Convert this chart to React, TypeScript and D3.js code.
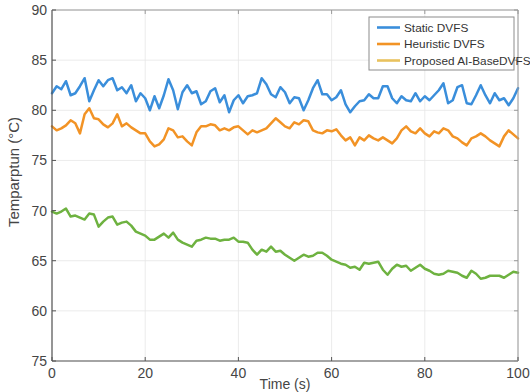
import React from 'react'
import * as d3 from 'd3'

// time axis, one sample per second
const time = d3.range(0, 101)

const staticDvfs = [
  81.7, 82.4, 82.1, 82.9, 81.5, 81.7, 82.4, 83.2, 80.9, 82.0,
  83.0, 82.4, 83.0, 83.2, 82.0, 82.3, 81.7, 82.5, 80.9, 81.7,
  81.2, 80.0, 81.4, 80.2, 81.5, 83.1, 82.0, 80.1, 81.8, 82.5,
  81.7, 81.9, 80.6, 80.9, 81.9, 82.2, 80.8, 81.5, 79.8, 81.0,
  81.5, 80.7, 81.4, 81.5, 81.7, 83.2, 82.6, 81.6, 81.3, 82.3,
  81.8, 80.7, 81.3, 81.2, 80.0, 81.0, 82.2, 83.0, 81.6, 81.6,
  81.0, 81.3, 82.0, 80.6, 79.8, 80.4, 80.9, 81.0, 81.6, 81.2,
  81.2, 82.4, 82.4, 81.2, 80.7, 81.4, 81.0, 80.9, 81.7, 80.9,
  81.4, 81.0, 81.5, 82.0, 82.7, 80.7, 81.0, 82.3, 82.5, 80.7,
  80.6, 81.5, 82.5, 81.5, 80.7, 81.7, 81.0, 81.2, 80.5, 81.2,
  82.2,
]

const heuristicDvfs = [
  78.4, 78.0, 78.2, 78.5, 79.0, 78.7, 77.7, 79.6, 80.2, 79.2,
  79.1, 78.6, 78.3, 78.7, 79.6, 78.4, 78.7, 78.3, 78.0, 77.7,
  77.7, 76.9, 76.4, 76.6, 77.1, 78.2, 78.0, 77.3, 77.4, 76.9,
  76.5, 77.8, 78.4, 78.4, 78.6, 78.5, 78.0, 78.2, 78.0, 78.3,
  78.4, 78.0, 77.6, 78.0, 77.8, 78.0, 78.2, 78.7, 79.2, 78.8,
  78.4, 78.2, 78.8, 78.6, 79.0, 78.9, 78.0, 77.8, 77.7, 78.0,
  77.9, 78.1, 77.5, 77.0, 77.3, 76.5, 77.3, 77.0, 77.5, 77.2,
  77.0, 77.3, 77.0, 76.7, 77.2, 78.0, 78.4, 77.9, 77.7, 78.2,
  77.7, 77.4, 77.9, 77.7, 78.2, 78.0, 77.4, 77.2, 76.8, 76.5,
  77.2, 77.4, 77.7, 77.4, 77.0, 76.7, 76.4, 77.4, 78.0, 77.6,
  77.2,
]

const proposedDvfs = [
  69.9, 69.7, 69.9, 70.2, 69.4, 69.5, 69.3, 69.1, 69.7, 69.6,
  68.4, 68.9, 69.3, 69.4, 68.6, 68.8, 68.9, 68.5, 67.9, 67.7,
  67.5, 67.1, 67.1, 67.4, 67.7, 67.3, 67.8, 67.1, 66.8, 66.6,
  66.4, 67.0, 67.1, 67.3, 67.2, 67.2, 67.0, 67.1, 67.1, 67.3,
  66.9, 66.9, 66.8, 66.1, 65.6, 66.1, 65.9, 66.4, 65.9, 66.0,
  65.6, 65.3, 65.0, 65.3, 65.6, 65.4, 65.5, 65.8, 65.8, 65.5,
  65.1, 64.9, 64.7, 64.6, 64.3, 64.4, 64.1, 64.8, 64.7, 64.8,
  64.9, 64.1, 63.6, 64.2, 64.6, 64.4, 64.5, 64.0, 64.3, 64.6,
  64.2, 64.0, 63.7, 63.6, 63.7, 64.0, 63.9, 63.8, 63.5, 63.3,
  64.0, 63.7, 63.2, 63.3, 63.5, 63.5, 63.5, 63.3, 63.6, 63.9,
  63.8,
]

const xTicks = [0, 20, 40, 60, 80, 100]
const yTicks = [90, 85, 80, 75, 70, 65, 60, 55]
// the bottom tick of the original figure reads "75"
const yTickLabels = ['90', '85', '80', '75', '70', '65', '60', '75']

const legendNames = ['Static DVFS', 'Heuristic DVFS', 'Proposed AI-BaseDVFS']
const legendColors = ['#3a8edb', '#f29325', '#e9c25e']

const width = 530
const height = 392
const marge = { top: 10, right: 12, bottom: 31, left: 52 }
const font = '"Liberation Sans", Arial, sans-serif'

export default function App() {
  const x = d3.scaleLinear().domain([0, 100]).range([marge.left, width - marge.right])
  const y = d3.scaleLinear().domain([55, 90]).range([height - marge.bottom, marge.top])

  const line = d3.line<number>()
    .x((d, i) => x(time[i]))
    .y(d => y(d))

  const series = [
    { values: staticDvfs, color: '#3a8edb' },
    { values: heuristicDvfs, color: '#f29325' },
    { values: proposedDvfs, color: '#6eb240' },
  ]

  const x0 = x(0), x1 = x(100), y0 = y(55), y1 = y(90)

  return (
    <svg width={width} height={height}
      style={{ position: 'absolute', left: 0, top: 0, background: '#fff' }}
      fontFamily={font}>
      <rect x={x0} y={y1} width={x1 - x0} height={y0 - y1} fill="#fff" />
      {/* grid */}
      {xTicks.map(t => (
        <line key={'gx' + t} x1={x(t)} x2={x(t)} y1={y1} y2={y0} stroke="#e6e6e6" strokeWidth={0.8} />
      ))}
      {yTicks.map(t => (
        <line key={'gy' + t} x1={x0} x2={x1} y1={y(t)} y2={y(t)} stroke="#e6e6e6" strokeWidth={0.8} />
      ))}

      {/* lines */}
      {series.map((s, i) => (
        <path key={i} d={line(s.values) || ''} fill="none" stroke={s.color}
          strokeWidth={2.5} strokeLinejoin="round" strokeLinecap="round" />
      ))}

      {/* box */}
      <line x1={x0} x2={x1} y1={y1} y2={y1} stroke="#9a9a9a" strokeWidth={1} />
      <line x1={x1} x2={x1} y1={y1} y2={y0} stroke="#9a9a9a" strokeWidth={1} />
      <line x1={x0} x2={x0} y1={y1} y2={y0} stroke="#555" strokeWidth={1.2} />
      <line x1={x0} x2={x1} y1={y0} y2={y0} stroke="#555" strokeWidth={1.2} />

      {/* ticks */}
      {xTicks.map(t => (
        <g key={'tx' + t}>
          <line x1={x(t)} x2={x(t)} y1={y0} y2={y0 - 4} stroke="#555" />
          <line x1={x(t)} x2={x(t)} y1={y1} y2={y1 + 4} stroke="#9a9a9a" />
          <text x={x(t)} y={y0 + 17} textAnchor="middle" fontSize={14} fill="#454545">{t}</text>
        </g>
      ))}
      {yTicks.map((t, i) => (
        <g key={'ty' + t}>
          <line x1={x0} x2={x0 + 4} y1={y(t)} y2={y(t)} stroke="#555" />
          <line x1={x1} x2={x1 - 4} y1={y(t)} y2={y(t)} stroke="#9a9a9a" />
          <text x={x0 - 5} y={y(t) + 5} textAnchor="end" fontSize={14} fill="#454545">{yTickLabels[i]}</text>
        </g>
      ))}

      {/* axis labels */}
      <text x={(x0 + x1) / 2} y={height - 3} textAnchor="middle" fontSize={14} fill="#454545">Time (s)</text>
      <text transform={`translate(19,172) rotate(-90)`} textAnchor="middle" fontSize={15} fill="#454545">Temparptun (°C)</text>

      {/* legend */}
      <g transform="translate(369,17)">
        <rect x={0} y={0} width={145} height={53} fill="#fff" stroke="#8c8c8c" strokeWidth={1} />
        {legendNames.map((n, i) => (
          <g key={n} transform={`translate(0,${10.5 + i * 16.5})`}>
            <line x1={8} x2={31} y1={0} y2={0} stroke={legendColors[i]} strokeWidth={2.6} />
            <text x={35} y={4} fontSize={11.8} fill="#333">{n}</text>
          </g>
        ))}
      </g>
    </svg>
  )
}
